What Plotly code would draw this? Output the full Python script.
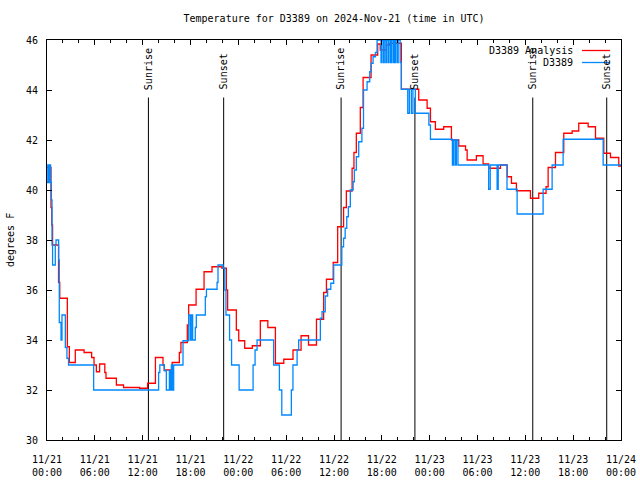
import pandas as pd
import plotly.graph_objects as go

BASE = pd.Timestamp("2024-11-21 00:00")

title_text = "Temperature for D3389 on 2024-Nov-21 (time in UTC)"
y_title = "degrees F"
analysis_name = "D3389 Analysis"
obs_name = "D3389"

# hours after 2024-11-21 00:00 UTC, and temperature (F) -- step data
red_h = [0.0, 0.5, 0.6, 0.7, 1.45, 1.6, 2.55, 2.8, 3.55, 4.65, 5.6, 5.9, 6.19, 6.6, 7.25, 7.4, 8.7, 9.6,
         11.62, 12.62, 13.6, 14.55, 14.7, 15.7, 16.6, 16.8, 17.6, 17.77, 18.7, 19.7, 20.7, 21.95, 22.5,
         22.66, 23.75, 24.05, 24.8, 25.75, 26.76, 27.7, 28.65, 29.7, 30.86, 31.87, 32.8, 33.8, 34.7,
         35.05, 35.9, 36.46, 37.2, 37.55, 38.27, 38.5, 38.8, 39.3, 39.65, 40.65, 41.48, 41.8, 42.57,
         43.0, 44.45, 46.63, 47.68, 48.1, 48.72, 49.76, 50.73, 51.65, 52.5, 52.7, 53.86, 54.7, 55.4,
         56.88, 57.72, 58.26, 58.88, 60.64, 61.68, 62.6, 62.86, 63.78, 64.82, 65.87, 66.7, 67.88, 68.8,
         69.84, 70.68, 71.72, 72.0]
red_v = [40.9, 39.3, 38.6, 37.8, 36.3, 35.67, 33.73, 33.1, 33.6, 33.5, 33.3, 33.0, 32.73, 33.04, 32.7,
         32.47, 32.2, 32.1, 32.07, 32.27, 33.3, 33.0, 32.8, 33.1, 33.5, 33.9, 34.6, 35.4, 36.03, 36.73,
         36.93, 36.87, 36.0, 35.2, 34.4, 33.97, 33.67, 33.77, 34.77, 34.5, 33.07, 33.23, 33.6, 34.17,
         33.8, 34.83, 35.9, 36.43, 37.1, 38.53, 39.3, 39.96, 40.87, 41.5, 42.27, 43.3, 44.5, 45.4, 45.84,
         45.6, 45.8, 45.87, 44.03, 43.6, 43.27, 42.73, 42.43, 42.53, 42.0, 41.76, 41.6, 41.2, 41.37,
         41.04, 40.87, 41.0, 40.53, 40.27, 39.97, 39.67, 39.87, 40.13, 40.9, 41.5, 42.27, 42.36, 42.67,
         42.53, 42.07, 41.47, 41.3, 40.96, 40.96]

blue_h = [0.0, 0.1, 0.2, 0.3, 0.45, 0.55, 0.63, 0.7, 1.04, 1.13, 1.46, 1.54, 1.76, 1.88, 2.3, 2.5, 2.7,
          5.85, 14.0, 14.15, 14.72, 14.97, 15.35, 15.47, 15.6, 15.72, 15.89, 17.06, 17.77, 17.98, 18.1,
          18.27, 18.6, 18.73, 19.86, 20.0, 21.33, 21.45, 22.08, 22.3, 22.45, 22.9, 23.15, 24.1, 25.85,
          26.1, 26.35, 28.43, 29.15, 29.45, 30.65, 30.85, 31.37, 31.57, 34.29, 34.5, 34.9, 35.2, 35.6,
          35.96, 36.98, 37.2, 37.4, 37.6, 37.8, 38.05, 38.4, 38.55, 38.8, 39.1, 39.5, 39.7, 40.15, 40.48,
          40.65, 40.9, 41.2, 41.4, 41.9, 42.0, 42.2, 42.3, 42.5, 42.6, 42.8, 42.9, 43.1, 43.2, 43.4, 43.5,
          43.65, 43.75, 43.95, 44.05, 44.3, 44.45, 45.25, 45.45, 45.7, 45.9, 46.2, 47.9, 48.1, 50.85,
          51.0, 51.2, 51.35, 51.55, 55.4, 55.6, 56.46, 56.6, 57.7, 58.97, 62.23, 63.36, 64.74, 69.76, 72.0]
blue_v = [40.3, 41.0, 40.3, 41.0, 40.3, 39.6, 37.8, 37.0, 37.8, 38.0, 37.2, 34.7, 34.0, 35.0, 33.7,
          33.27, 33.0, 32.0, 32.7, 33.0, 32.77, 32.0, 32.77, 32.0, 33.0, 32.0, 33.0, 33.97, 35.0, 34.0,
          35.0, 34.0, 34.5, 35.0, 35.73, 36.03, 36.3, 37.0, 36.87, 36.0, 35.0, 34.0, 33.0, 32.0, 33.0,
          33.6, 34.0, 33.0, 32.0, 31.0, 32.0, 33.0, 33.6, 34.0, 34.87, 35.13, 35.76, 36.03, 36.27, 37.0,
          37.73, 38.07, 38.47, 38.93, 39.33, 40.0, 40.33, 40.8, 41.33, 41.93, 42.47, 44.0, 44.33, 44.73,
          45.07, 45.33, 45.5, 46.0, 45.1, 46.0, 45.1, 46.0, 45.1, 46.0, 45.1, 46.0, 45.1, 46.0, 45.1, 46.0,
          45.1, 46.0, 45.1, 46.0, 45.1, 44.03, 43.07, 44.03, 43.07, 44.03, 43.07, 42.6, 42.03, 41.0,
          42.0, 41.0, 42.0, 41.0, 40.03, 41.0, 40.03, 41.0, 40.03, 39.04, 40.03, 41.0, 42.03, 41.0, 41.0]

assert len(red_h) == len(red_v) and len(blue_h) == len(blue_v)

event_names = ["Sunrise", "Sunset", "Sunrise", "Sunset", "Sunrise", "Sunset"]
event_h = [12.72, 22.16, 36.89, 46.15, 60.93, 70.21]

tick_h = [0, 6, 12, 18, 24, 30, 36, 42, 48, 54, 60, 66, 72]
tick_text = ["11/21<br>00:00", "11/21<br>06:00", "11/21<br>12:00", "11/21<br>18:00",
             "11/22<br>00:00", "11/22<br>06:00", "11/22<br>12:00", "11/22<br>18:00",
             "11/23<br>00:00", "11/23<br>06:00", "11/23<br>12:00", "11/23<br>18:00",
             "11/24<br>00:00"]
y_ticks = [30, 32, 34, 36, 38, 40, 42, 44, 46]

RED = "#ff0000"
BLUE = "#0088ff"
FONT = "DejaVu Sans Mono"


def to_time(hours):
    return BASE + pd.to_timedelta(pd.Series(hours, dtype=float), unit="h")


fig = go.Figure()
fig.add_trace(go.Scatter(x=to_time(red_h), y=red_v, mode="lines", name=analysis_name,
                         line=dict(color=RED, width=1.3, shape="hv"), showlegend=False))
fig.add_trace(go.Scatter(x=to_time(blue_h), y=blue_v, mode="lines", name=obs_name,
                         line=dict(color=BLUE, width=1.3, shape="hv"), showlegend=False))

ev_times = to_time(event_h)
for name, t in zip(event_names, ev_times):
    fig.add_shape(type="line", xref="x", yref="y", x0=t, x1=t, y0=30, y1=43.7,
                  line=dict(color="black", width=1), layer="below")
    fig.add_annotation(x=t, y=43.93, xref="x", yref="y", text=name, textangle=-90,
                       showarrow=False, xanchor="center", yanchor="bottom",
                       font=dict(family=FONT, size=10, color="black"))

# legend (text right, sample line on right, gnuplot style)
L, W, T, H = 47, 574, 40, 400
def px(x):
    return (x - L) / W
def py(y):
    return (T + H - y) / H

for i, (nm, col) in enumerate([(analysis_name, RED), (obs_name, BLUE)]):
    yy = 50.5 + 12 * i
    fig.add_annotation(x=px(575), y=py(yy), xref="paper", yref="paper", text=nm,
                       showarrow=False, xanchor="right", yanchor="middle",
                       font=dict(family=FONT, size=10, color="black"))
    fig.add_shape(type="line", xref="paper", yref="paper", x0=px(582), x1=px(610),
                  y0=py(yy), y1=py(yy), line=dict(color=col, width=1.3))

fig.add_annotation(x=px(10), y=0.5, xref="paper", yref="paper", text=y_title, textangle=-90,
                   showarrow=False, xanchor="center", yanchor="middle",
                   font=dict(family=FONT, size=10, color="black"))

fig.update_layout(
    width=640, height=480,
    margin=dict(l=L, r=640 - L - W, t=T, b=480 - T - H, autoexpand=False),
    paper_bgcolor="white", plot_bgcolor="white",
    font=dict(family=FONT, size=10, color="black"),
    title=dict(text=title_text, x=0.5, xref="paper", y=1 - 18 / 480, yref="container",
               xanchor="center", yanchor="middle", font=dict(family=FONT, size=10, color="black")),
)
fig.update_xaxes(
    range=[BASE, BASE + pd.Timedelta(hours=72)], automargin=False,
    tickmode="array", tickvals=list(to_time(tick_h)), ticktext=tick_text,
    ticks="inside", ticklen=5, tickcolor="black", tickwidth=1,
    showline=True, linecolor="black", linewidth=1, mirror="ticks",
    showgrid=False, zeroline=False,
    minor=dict(tickmode="linear", tick0=BASE, dtick=2 * 3600 * 1000, ticks="inside",
               ticklen=3, tickcolor="black", showgrid=False),
    tickfont=dict(family=FONT, size=10, color="black"),
    ticklabelstandoff=10,
)
fig.update_yaxes(
    range=[30, 46], tickmode="array", tickvals=y_ticks, automargin=False,
    ticks="inside", ticklen=5, tickcolor="black", tickwidth=1,
    showline=True, linecolor="black", linewidth=1, mirror="ticks",
    showgrid=False, zeroline=False,
    tickfont=dict(family=FONT, size=10, color="black"),
    ticklabelstandoff=6,
)

fig.write_html("out.html", config={"displayModeBar": False},
               post_script="document.body.style.margin='0';document.body.style.padding='0';")
